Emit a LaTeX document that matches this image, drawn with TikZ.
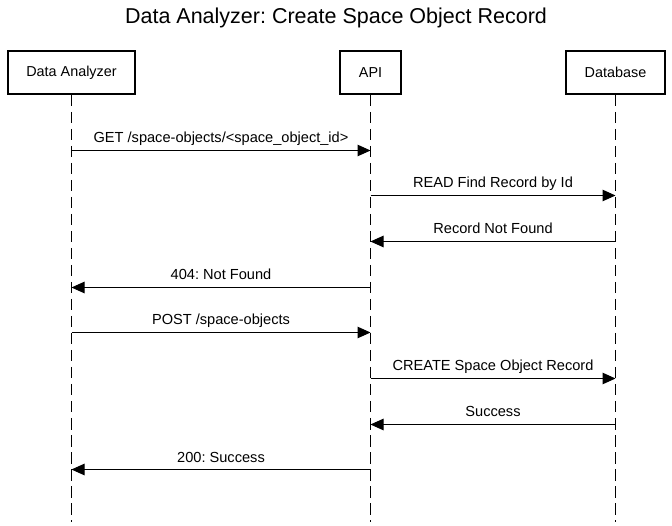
\documentclass[tikz,border=0pt]{standalone}
\usepackage{fontspec}
\setmainfont{Liberation Sans}
\usetikzlibrary{arrows.meta,calc}
\frenchspacing
\begin{document}
\begin{tikzpicture}[x=1pt,y=-1pt,
  actor/.style={draw=black,line width=2pt,minimum height=43pt,inner sep=0pt,font=\fontsize{14.4}{16}\selectfont},
  life/.style={draw=black,line width=1pt,dash pattern=on 11.5pt off 5.5pt},
  msg/.style={draw=black,line width=1pt,-{Triangle[length=13pt,width=11.5pt]}},
  lbl/.style={font=\fontsize{14.6}{16}\selectfont,inner sep=0pt,anchor=base}]
\useasboundingbox (0,0) rectangle (672,526);
\node[font=\fontsize{21.5}{24}\selectfont] (title) at (336,18) {Data Analyzer: Create Space Object Record};
\node[actor,minimum width=127pt] (da) at (71.5,72.5) {Data Analyzer};
\node[actor,minimum width=61pt] (api) at (370.5,72.5) {API};
\node[actor,minimum width=99pt] (db) at (615.5,72.5) {Database};
\coordinate (daend) at (71.5,522);
\coordinate (apiend) at (370.5,522);
\coordinate (dbend) at (615.5,522);
\draw[life] (da.south) -- (daend);
\draw[life] (api.south) -- (apiend);
\draw[life] (db.south) -- (dbend);
% messages
\foreach \y/\from/\to/\txt [count=\i] in {
  150.5/da/api/{GET /space-objects/<space\_object\_id>},
  195.5/api/db/{READ Find Record by Id},
  241.5/db/api/{Record Not Found},
  287.5/api/da/{404: Not Found},
  332.5/da/api/{POST /space-objects},
  378.5/api/db/{CREATE Space Object Record},
  424.5/db/api/{Success},
  469.5/api/da/{200: Success}}{
  \coordinate (s\i) at (\from.south |- 0,\y);
  \coordinate (t\i) at (\to.south |- 0,\y);
  \draw[msg] (s\i) -- (t\i);
  \node[lbl] (m\i) at ($(s\i)!0.5!(t\i)+(0,-7.5)$) {\txt};
}
\end{tikzpicture}
\end{document}
